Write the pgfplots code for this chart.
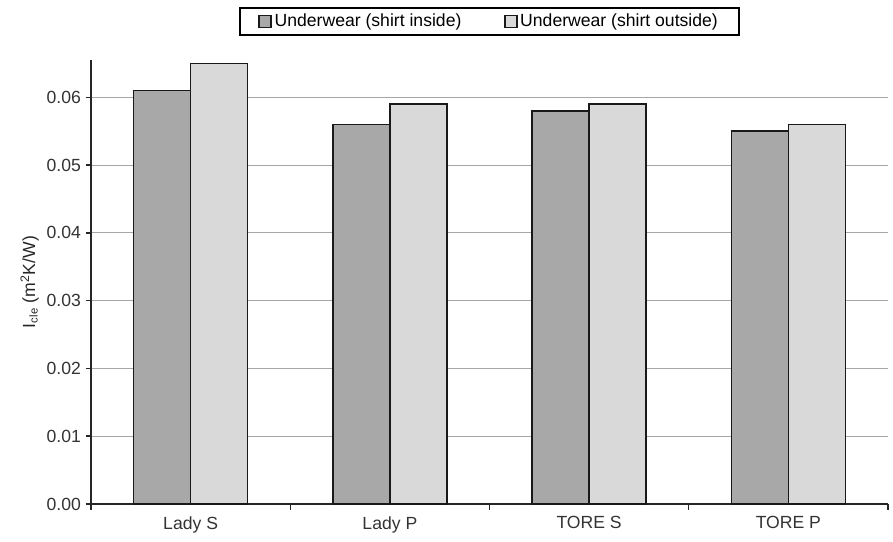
\documentclass[border=0pt]{standalone}
\usepackage{fontspec}
\setmainfont{Liberation Sans}
\usepackage{pgfplots}
\pgfplotsset{compat=1.18}
\definecolor{darkbar}{HTML}{A8A8A8}
\definecolor{lightbar}{HTML}{D9D9D9}
\definecolor{gridc}{HTML}{A6A6A6}
\begin{document}
\begin{tikzpicture}
\begin{axis}[
  at={(0,0)}, anchor=south west,
  scale only axis,
  width=597.75pt, height=333pt,
  xmin=-0.5, xmax=3.5,
  ymin=0, ymax=0.0655,
  axis lines=left,
  axis line style={-, line width=1.1pt, color=black!85},
  xtick={0,1,2,3},
  xticklabels={Lady S, Lady P, TORE S, TORE P},
  minor xtick={-0.5,0.5,1.5,2.5,3.5},
  x tick style={draw=none},
  minor x tick style={draw=black!85, line width=1.1pt},
  minor tick length=4.5pt,
  xtick align=outside,
  ytick={0,0.01,0.02,0.03,0.04,0.05,0.06},
  ytick align=outside,
  y tick style={draw=black!85, line width=1.1pt},
  major tick length=4pt,
  ymajorgrids,
  grid style={gridc, line width=0.6pt},
  yticklabel style={/pgf/number format/fixed, /pgf/number format/fixed zerofill, /pgf/number format/precision=2, font=\fontsize{13.2}{15}\selectfont, text=black!80},
  xticklabel style={font=\fontsize{13.2}{15}\selectfont, text=black!80, yshift=-2pt},
  scaled y ticks=false,
  /pgf/number format/assume math mode=true,
  ylabel={I\textsubscript{\fontsize{8.5}{9}\selectfont cle} (m\textsuperscript{2}K/W)},
  every axis y label/.style={at={(rel axis cs:0,0.5)}, xshift=-46pt, rotate=90, anchor=center, font=\fontsize{13.2}{15}\selectfont, text=black!85},
  ybar,
  bar width=0.286,
  legend style={at={(rel axis cs:0.5,1)}, yshift=29pt, anchor=center, draw=black, line width=1.2pt, font=\fontsize{13.2}{15}\selectfont, inner xsep=14pt, inner ysep=2.5pt, /tikz/every even column/.append style={column sep=30pt}},
  legend columns=2,
  legend image code/.code={\draw[#1, line width=1.1pt] (0pt,-4.5pt) rectangle (9pt,4.5pt);},
  clip=false,
]
\addplot[fill=darkbar, draw=black!90, line width=1.2pt, bar shift=-0.143] coordinates {(0,0.061) (1,0.056) (2,0.058) (3,0.055)};
\addplot[fill=lightbar, draw=black!90, line width=1.2pt, bar shift=0.143] coordinates {(0,0.065) (1,0.059) (2,0.059) (3,0.056)};
\legend{Underwear (shirt inside), Underwear (shirt outside)}
\end{axis}
\pgfresetboundingbox
\path (-68.25pt,-28.5pt) rectangle (601.5pt,378pt);
\end{tikzpicture}
\end{document}
